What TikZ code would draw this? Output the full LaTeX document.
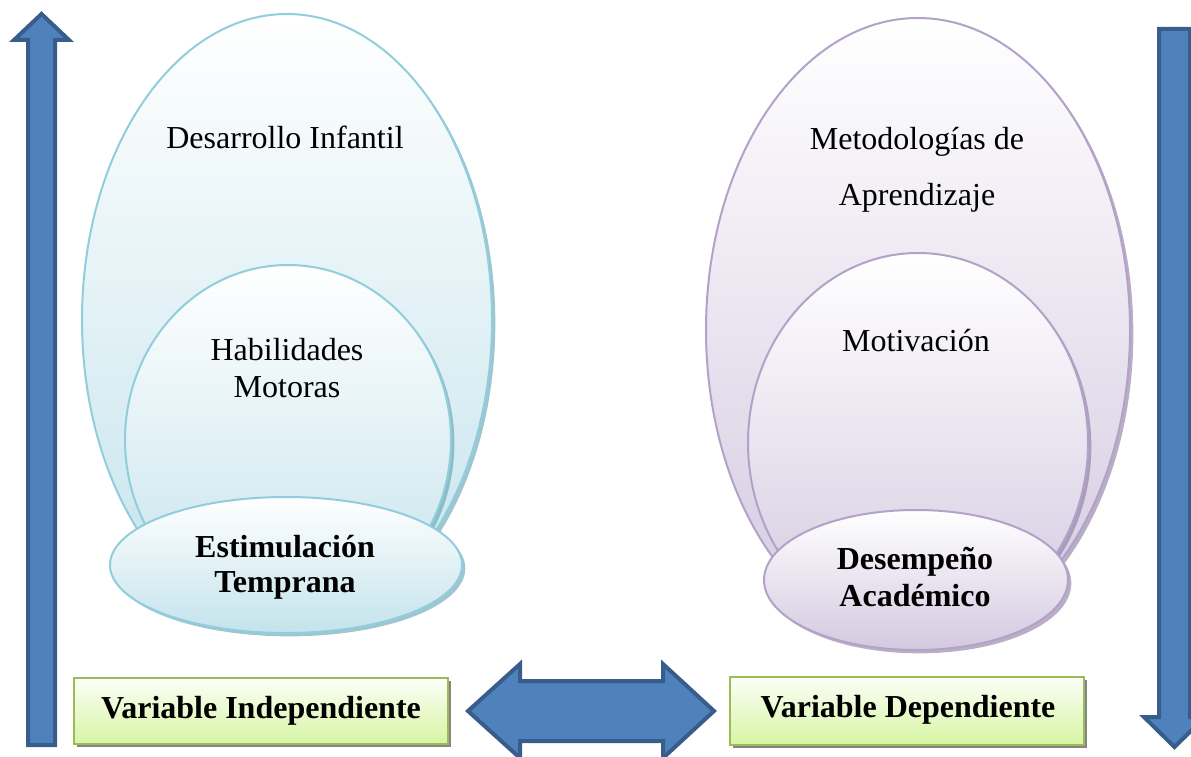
\documentclass[tikz,border=0pt]{standalone}
\usepackage{fontspec}
\setmainfont{Liberation Serif}
\usetikzlibrary{shapes.geometric,shadows}
\definecolor{arrowfill}{HTML}{4F81BD}
\definecolor{arrowline}{HTML}{385D8A}
\definecolor{aqualine}{HTML}{92CDDC}
\definecolor{aquafill}{HTML}{C4E3EC}
\definecolor{aquashadow}{HTML}{5E9FB0}
\definecolor{lilacline}{HTML}{B3A2C7}
\definecolor{lilacfill}{HTML}{D3C9E0}
\definecolor{lilacshadow}{HTML}{8A78A0}
\definecolor{greenline}{HTML}{9BBB59}
\definecolor{greenfill}{HTML}{D7F5A3}
\begin{document}
\begin{tikzpicture}[x=0.75pt,y=-0.75pt,
  txt/.style={font=\fontsize{24}{28}\selectfont, text=black, inner sep=0pt},
  btxt/.style={txt, font=\fontsize{24}{28}\selectfont\bfseries},
  aquaell/.style={ellipse, draw=aqualine, line width=1.5pt, inner sep=0pt, outer sep=0pt,
    top color=white, bottom color=aquafill,
    drop shadow={shadow xshift=2.5pt, shadow yshift=-2.5pt, fill=aquashadow, opacity=0.6}},
  lilacell/.style={ellipse, draw=lilacline, line width=1.5pt, inner sep=0pt, outer sep=0pt,
    top color=white, bottom color=lilacfill,
    drop shadow={shadow xshift=2.5pt, shadow yshift=-2.5pt, fill=lilacshadow, opacity=0.6}},
  varbox/.style={rectangle, draw=greenline, line width=1.2pt, inner sep=0pt, outer sep=0pt,
    top color=white!92!greenfill, bottom color=greenfill,
    drop shadow={shadow xshift=2pt, shadow yshift=-2.5pt, fill=gray!80!black, opacity=0.8}},
  bluearrow/.style={fill=arrowfill, draw=arrowline, line width=3pt, line join=miter}
]
\useasboundingbox (0,0) rectangle (1191,756);

% left arrow up
\draw[bluearrow] (28,745) -- (28,40) -- (14,40) -- (41.5,14) -- (69,40) -- (55,40) -- (55,745) -- cycle;
% right arrow down
\draw[bluearrow] (1159,29) -- (1190,29) -- (1190,717) -- (1205,717) -- (1174.5,747) -- (1144,717) -- (1159,717) -- cycle;

% left ellipses
\node[aquaell, minimum width=307.5pt, minimum height=459pt] (di) at (287,320) {};
\node[aquaell, minimum width=244.5pt, minimum height=262.5pt] (hm) at (288,440) {};
\node[aquaell, minimum width=264pt, minimum height=102pt] (et) at (286,565) {};

% right ellipses
\node[lilacell, minimum width=318pt, minimum height=468pt] (ma) at (918,330) {};
\node[lilacell, minimum width=255pt, minimum height=285pt] (mo) at (918,443) {};
\node[lilacell, minimum width=228pt, minimum height=105pt] (da) at (916,580) {};

% texts
\node[txt] (t1) at (285,137) {Desarrollo Infantil};
\node[txt, align=center] (t2) at (287,368) {Habilidades\\Motoras};
\node[btxt, align=center] (t3) at (285,567) {Estimulación\\[-2pt]Temprana};
\node[txt, align=center] (t4) at (917,170) {Metodologías de\\[14pt]Aprendizaje};
\node[txt] (t5) at (916,341) {Motivación};
\node[btxt, align=center] (t6) at (915,577) {Desempeño\\Académico};

% double arrow
\draw[bluearrow] (468,711) -- (520,664) -- (520,681) -- (663,681) -- (663,664) -- (714,711)
  -- (663,758) -- (663,741) -- (520,741) -- (520,758) -- cycle;

% boxes
\node[varbox, minimum width=280.5pt, minimum height=49.5pt] (vi) at (261,711) {};
\node[btxt] (vit) at (vi) {Variable Independiente};
\node[varbox, minimum width=265.5pt, minimum height=51pt] (vd) at (907,711) {};
\node[btxt] (vdt) at (908,710) {Variable Dependiente};
\end{tikzpicture}
\end{document}
